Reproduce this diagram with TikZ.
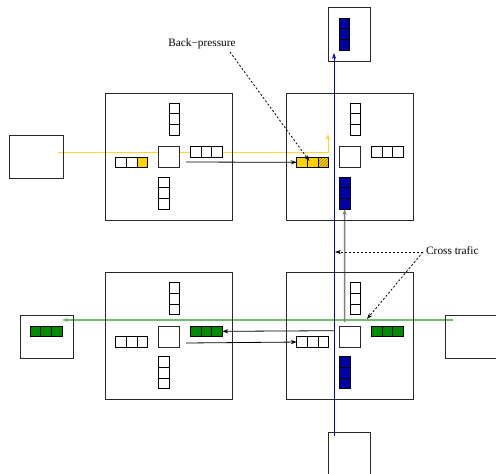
\documentclass[tikz,border=0pt]{standalone}
\usepackage{fontspec}
\setmainfont{Liberation Serif}
\usetikzlibrary{patterns,arrows.meta,backgrounds}
\definecolor{gold}{RGB}{255,210,0}
\definecolor{yline}{RGB}{255,215,40}
\definecolor{hatchc}{RGB}{150,120,0}
\definecolor{qblue}{RGB}{0,0,165}
\definecolor{bline}{RGB}{0,0,200}
\definecolor{qgreen}{RGB}{0,140,0}
\definecolor{gline}{RGB}{110,190,110}
\definecolor{edge}{RGB}{40,40,40}
\tikzset{
  rbox/.style={draw=edge,line width=0.9pt,minimum width=127pt,minimum height=127pt,inner sep=0pt,outer sep=0pt},
  ebox/.style={draw=edge,line width=0.9pt,inner sep=0pt,outer sep=0pt},
  csq/.style={draw=edge,line width=0.9pt,fill=white,minimum size=21.33pt,inner sep=0pt,outer sep=0pt},
  cell/.style={draw=black,line width=0.8pt,fill=white,minimum size=10.67pt,inner sep=0pt,outer sep=0pt},
  yf/.style={fill=gold},
  bf/.style={fill=qblue},
  gf/.style={fill=qgreen},
  hf/.style={preaction={fill=gold},pattern=north east lines,pattern color=hatchc},
  tip/.style={-{Stealth[length=6pt,width=4.2pt]}},
  note/.style={font=\fontsize{11.3}{13}\selectfont,inner sep=0pt},
  dsh/.style={draw=black,line width=0.8pt,dash pattern=on 2pt off 2pt,tip},
}
\newcommand\hbuf[5]{%
  \node[cell,#3,anchor=north west] (#1-1) at (#2) {};
  \node[cell,#4,anchor=west] (#1-2) at (#1-1.east) {};
  \node[cell,#5,anchor=west] (#1-3) at (#1-2.east) {};}
\newcommand\vbuf[5]{%
  \node[cell,#3,anchor=north west] (#1-1) at (#2) {};
  \node[cell,#4,anchor=north] (#1-2) at (#1-1.south) {};
  \node[cell,#5,anchor=north] (#1-3) at (#1-2.south) {};}
\newcommand\router[3]{%
  \node[rbox,anchor=north west] (#1) at (#2,#3) {};
  \node[csq,anchor=north west] (#1-c) at ([shift={(53.3,53.3)}]#1.north west) {};}
\begin{document}
\begin{tikzpicture}[x=1pt,y=-1pt]
\useasboundingbox (0,0) rectangle (496,474);
% routers
\router{A}{105}{93}
\router{B}{286}{93}
\router{C}{105}{272.7}
\router{D}{286}{272.7}
% end boxes
\node[ebox,anchor=north west,minimum width=42pt,minimum height=54pt] (T) at (328,7) {};
\node[ebox,anchor=north west,minimum width=54pt,minimum height=43pt] (S) at (9,135) {};
\node[ebox,anchor=north west,minimum width=53pt,minimum height=43pt] (L) at (20,315) {};
\node[ebox,anchor=north west,minimum width=56pt,minimum height=43pt] (R) at (445,315) {};
\node[ebox,anchor=north west,minimum width=42pt,minimum height=56pt] (Bt) at (328,432) {};
% buffers of A
\vbuf{A-n}{[shift={(64,10)}]A.north west}{}{}{}
\hbuf{A-e}{[shift={(85.3,53.3)}]A.north west}{}{}{}
\vbuf{A-s}{[shift={(53.3,84)}]A.north west}{}{}{}
\hbuf{A-w}{[shift={(10.7,64)}]A.north west}{}{}{yf}
% buffers of B
\vbuf{B-n}{[shift={(64,10)}]B.north west}{}{}{}
\hbuf{B-e}{[shift={(85.3,53.3)}]B.north west}{}{}{}
\vbuf{B-s}{[shift={(53.3,84)}]B.north west}{bf}{bf}{bf}
\hbuf{B-w}{[shift={(10.7,64)}]B.north west}{yf}{yf}{hf}
% buffers of C
\vbuf{C-n}{[shift={(64,10)}]C.north west}{}{}{}
\hbuf{C-e}{[shift={(85.3,53.3)}]C.north west}{gf}{gf}{gf}
\vbuf{C-s}{[shift={(53.3,84)}]C.north west}{}{}{}
\hbuf{C-w}{[shift={(10.7,64)}]C.north west}{}{}{}
% buffers of D
\vbuf{D-n}{[shift={(64,10)}]D.north west}{}{}{}
\hbuf{D-e}{[shift={(85.3,53.3)}]D.north west}{gf}{gf}{gf}
\vbuf{D-s}{[shift={(53.3,84)}]D.north west}{bf}{bf}{bf}
\hbuf{D-w}{[shift={(10.7,64)}]D.north west}{}{}{}
% buffers in end boxes
\vbuf{T-b}{[shift={(11,11)}]T.north west}{bf}{bf}{bf}
\hbuf{L-b}{[shift={(10,11)}]L.north west}{gf}{gf}{gf}
% labels
\node[note] (bp) at (202,44) {Back−pressure};
\node[note,anchor=west] (ct) at (426,251) {Cross trafic};
% connectors
\coordinate (y0) at (58,152);
\coordinate (y1) at (328,152);
\coordinate (y2) at (328,134);
\coordinate (b0) at (334,436);
\coordinate (b1) at (334,53);
\coordinate (g0) at (344.6,322);
\coordinate (gr0) at (453,320);
\coordinate (gr1) at (62,320);
\coordinate (k1) at (186,162);
\coordinate (k2) at (334,330.7);
\coordinate (k3) at (186,343);
\coordinate (bpa) at (230,52);
\coordinate (cta) at (423,252);
\coordinate (ctb) at (335,252);
\coordinate (ctc) at (367,319);
\begin{scope}[on background layer]
  \fill[white] (0,0) rectangle (496,474);
  \draw[yline,line width=1pt,tip] (y0) -- (y1) -- (y2);
  \draw[gline,line width=1.2pt,tip] (gr0) -- (gr1);
  \draw[gray,line width=1.5pt,tip] (g0) -- (B-s-3.south);
  \draw[bline,line width=0.9pt,tip] (b0) -- (b1);
  \draw[black,line width=0.8pt,tip] (k1) -- (B-w-1.west);
  \draw[black,line width=0.8pt,tip] (k2) -- (C-e-3.east);
  \draw[black,line width=0.8pt,tip] (k3) -- (D-w-1.west);
\end{scope}
\draw[dsh] (bpa) -- ([shift={(2,4)}]B-w-2.north west);
\draw[dsh] (cta) -- (ctb);
\draw[dsh] (cta) -- (ctc);
\end{tikzpicture}
\end{document}
